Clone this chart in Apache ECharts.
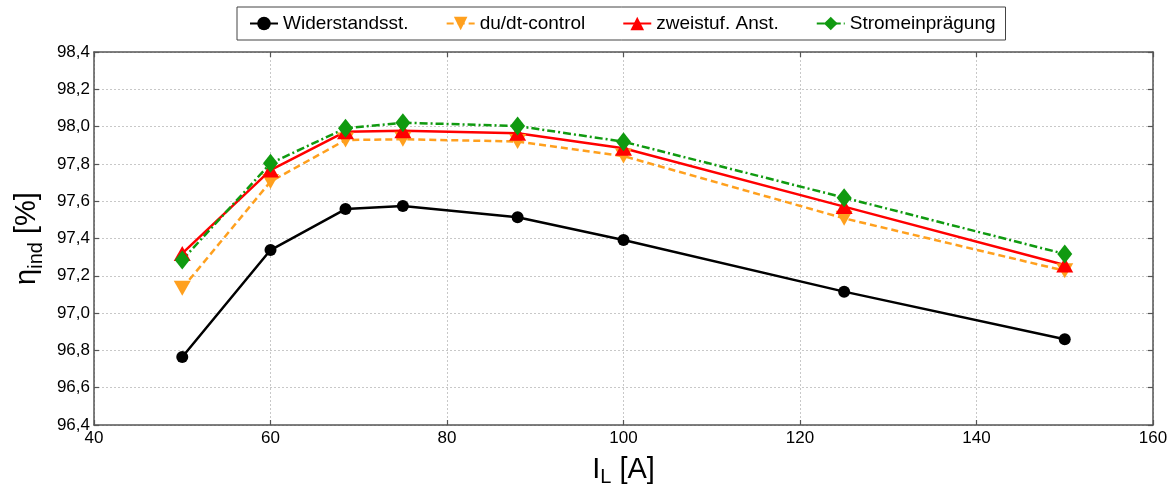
<!DOCTYPE html>
<html>
<head>
<meta charset="utf-8">
<script src="https://cdn.jsdelivr.net/npm/echarts@6/dist/echarts.min.js"></script>
<style>
html,body{margin:0;padding:0;background:#fff;}
#chart{width:1175px;height:484px;}
</style>
</head>
<body>
<div id="chart"></div>
<script>
const current = [50, 60, 68.5, 75, 88, 100, 125, 150];
const widerstand = [96.765, 97.338, 97.558, 97.574, 97.514, 97.392, 97.115, 96.86];
const dudt = [97.133, 97.705, 97.928, 97.932, 97.92, 97.842, 97.508, 97.227];
const zweistuf = [97.32, 97.767, 97.973, 97.978, 97.964, 97.884, 97.571, 97.258];
const strom = [97.285, 97.803, 97.991, 98.021, 98.003, 97.919, 97.619, 97.317];
const seriesNames = ['Widerstandsst.', 'du/dt-control', 'zweistuf. Anst.', 'Stromeinprägung'];
const xTicks = [40, 60, 80, 100, 120, 140, 160];
const yTicks = [96.4, 96.6, 96.8, 97.0, 97.2, 97.4, 97.6, 97.8, 98.0, 98.2, 98.4];

const pairs = arr => current.map((x, i) => [x, arr[i]]);
const font = 'Liberation Sans, Arial, sans-serif';
const frameColor = '#555';

const chart = echarts.init(document.getElementById('chart'), null, {renderer: 'canvas'});
const option = {
  backgroundColor: '#fff',
  animation: false,
  textStyle: {fontFamily: font},
  grid: {left: 94, right: 22, top: 52, bottom: 59, show: false, containLabel: false, outerBoundsMode: 'none'},
  legend: {
    left: 237, top: 7,
    padding: [7, 10, 7, 12],
    itemGap: 37,
    itemWidth: 28, itemHeight: 17,
    borderColor: '#444', borderWidth: 1,
    backgroundColor: '#fff',
    textStyle: {fontSize: 19, color: '#000', fontFamily: font},
    data: seriesNames
  },
  xAxis: [{
    type: 'value', min: xTicks[0], max: xTicks[xTicks.length - 1], interval: 20,
    position: 'bottom',
    axisLine: {show: true, onZero: false, lineStyle: {color: frameColor, width: 1.5}},
    axisTick: {show: true, inside: true, length: 5, lineStyle: {color: frameColor, width: 1.2}},
    axisLabel: {color: '#000', fontSize: 17, fontFamily: font, margin: 5},
    splitLine: {show: true, lineStyle: {color: '#c8c8c8', type: [2, 2], width: 1}},
    name: '{m|I}{s|L}{m| [A]}',
    nameLocation: 'middle', nameGap: 14,
    nameTextStyle: {
      rich: {
        m: {fontSize: 29, fontFamily: font, color: '#000', lineHeight: 34},
        s: {fontSize: 20, fontFamily: font, color: '#000', lineHeight: 34, padding: [16, 0, 0, 0]}
      }
    }
  }, {
    type: 'value', min: xTicks[0], max: xTicks[xTicks.length - 1], interval: 20,
    position: 'top',
    axisLine: {show: true, onZero: false, lineStyle: {color: frameColor, width: 1.5}},
    axisTick: {show: true, inside: true, length: 5, lineStyle: {color: frameColor, width: 1.2}},
    axisLabel: {show: false},
    splitLine: {show: false}
  }],
  yAxis: [{
    type: 'value', min: yTicks[0], max: yTicks[yTicks.length - 1], interval: 0.2,
    position: 'left',
    axisLine: {show: true, onZero: false, lineStyle: {color: frameColor, width: 1.5}},
    axisTick: {show: true, inside: true, length: 5, lineStyle: {color: frameColor, width: 1.2}},
    axisLabel: {color: '#000', fontSize: 17, fontFamily: font, margin: 4,
      formatter: v => v.toFixed(1).replace('.', ',')},
    splitLine: {show: true, lineStyle: {color: '#c8c8c8', type: [2, 2], width: 1}},
    name: '{m|η}{s|ind}{m| [%]}',
    nameLocation: 'middle', nameGap: 46, nameRotate: 90,
    nameTextStyle: {
      rich: {
        m: {fontSize: 29, fontFamily: font, color: '#000', lineHeight: 40},
        s: {fontSize: 20, fontFamily: font, color: '#000', lineHeight: 40, padding: [18, 0, 0, 0]}
      }
    }
  }, {
    type: 'value', min: yTicks[0], max: yTicks[yTicks.length - 1], interval: 0.2,
    position: 'right',
    axisLine: {show: true, onZero: false, lineStyle: {color: frameColor, width: 1.5}},
    axisTick: {show: true, inside: true, length: 5, lineStyle: {color: frameColor, width: 1.2}},
    axisLabel: {show: false},
    splitLine: {show: false}
  }],
  series: [
    {
      name: seriesNames[0], type: 'line', data: pairs(widerstand),
      color: '#000',
      lineStyle: {color: '#000', width: 2.5, type: 'solid'},
      symbol: 'circle', symbolSize: 12,
      itemStyle: {color: '#000'}
    },
    {
      name: seriesNames[1], type: 'line', data: pairs(dudt),
      color: '#FFA01E',
      lineStyle: {color: '#FFA01E', width: 2.5, type: [7, 4]},
      symbol: 'triangle', symbolRotate: 180, symbolSize: [17, 15],
      itemStyle: {color: '#FFA01E'}
    },
    {
      name: seriesNames[2], type: 'line', data: pairs(zweistuf),
      color: '#FF0000',
      lineStyle: {color: '#FF0000', width: 2.5, type: 'solid'},
      symbol: 'triangle', symbolSize: [17, 15],
      itemStyle: {color: '#FF0000'}
    },
    {
      name: seriesNames[3], type: 'line', data: pairs(strom),
      color: '#109A10',
      lineStyle: {color: '#109A10', width: 2.5, type: [8, 3, 2, 3]},
      symbol: 'diamond', symbolSize: [15, 19],
      itemStyle: {color: '#109A10'}
    }
  ]
};
chart.setOption(option);
</script>
</body>
</html>
